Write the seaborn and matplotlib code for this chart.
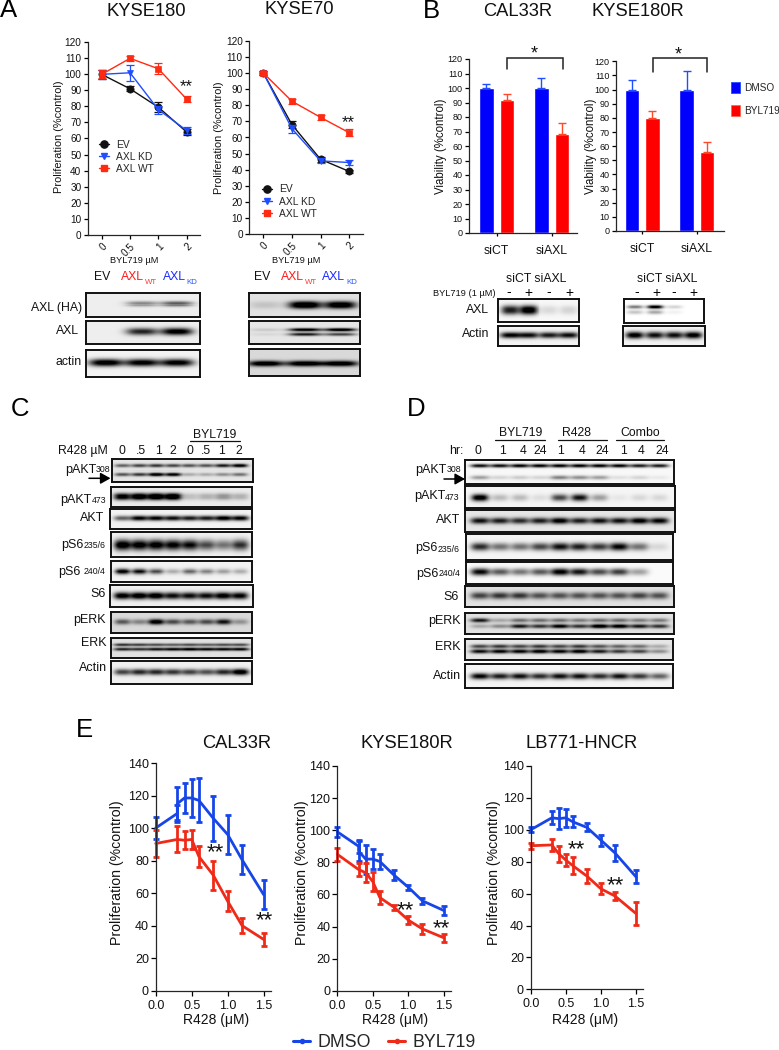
import numpy as np
import pandas as pd
import matplotlib
matplotlib.use("Agg")
import matplotlib.pyplot as plt
from matplotlib.lines import Line2D
from matplotlib.patches import Patch
import seaborn as sns

W, H = 779, 1050
sns.set_theme(style="ticks")
plt.rcParams["font.family"] = ["Liberation Sans", "DejaVu Sans"]
plt.rcParams["axes.linewidth"] = 0.9

# ---------- data: panel A ----------
BYL_DOSES = ["0", "0.5", "1", "2"]
A1_EV = [100, 91, 79.5, 64]
A1_EV_ERR = [3, 1.5, 3, 2]
A1_KD = [100, 101, 78, 65]
A1_KD_ERR = [3, 5, 2.5, 2]
A1_WT = [100, 110, 103.5, 84.5]
A1_WT_ERR = [2.5, 1.5, 3.5, 2]
A2_EV = [100, 68, 46.5, 39]
A2_EV_ERR = [1, 2, 1.5, 1]
A2_KD = [100, 65.5, 45.5, 44.5]
A2_KD_ERR = [1, 2.5, 1.5, 1.5]
A2_WT = [100, 82.5, 72.5, 63]
A2_WT_ERR = [0.5, 1.5, 1.5, 2]

# ---------- data: panel B ----------
SI_GROUPS = ["siCT", "siAXL"]
B1_DMSO = [100, 100]
B1_DMSO_ERR = [3, 7]
B1_BYL = [92, 68]
B1_BYL_ERR = [4, 8]
B2_DMSO = [100, 100]
B2_DMSO_ERR = [7, 13]
B2_BYL = [80, 56]
B2_BYL_ERR = [5, 7]

# ---------- data: panel E ----------
R428 = [0, 0.3, 0.4, 0.5, 0.6, 0.8, 1.0, 1.2, 1.5]
R428_DUP = [0, 0.3, 0.3, 0.4, 0.5, 0.6, 0.8, 1.0, 1.2, 1.5]
E1_DMSO = [100, 109, 115, 118.5, 118.5, 117, 106, 96, 80.5, 59]
E1_DMSO_ERR = [6.5, 5, 10, 9, 11.5, 13.5, 14, 12, 9, 9]
E1_BYL = [90.5, 93, 92.5, 93, 82.5, 71, 55, 40, 31.5]
E1_BYL_ERR = [8.5, 8, 5.5, 6, 6.5, 9, 6, 4.5, 4]
E2_DMSO = [99, 90, 87, 82, 82, 80.5, 72, 64.5, 56, 50]
E2_DMSO_ERR = [3, 4, 6, 9, 6, 4.5, 3, 1.5, 2, 3]
E2_BYL = [85, 75.5, 73.5, 68, 58, 52, 44, 38.5, 33]
E2_BYL_ERR = [4, 4, 6, 6, 4, 1.5, 2.5, 3, 2.5]
E3_DMSO = [100, 107.5, 107, 107.5, 105, 101.5, 93.5, 85.5, 70.5]
E3_DMSO_ERR = [1.5, 4, 6.5, 5.5, 3.5, 2.5, 3.5, 5, 4]
E3_BYL = [90, 90.5, 85, 81, 77.5, 71, 63, 58.5, 47.5]
E3_BYL_ERR = [2, 4, 5, 4, 5.5, 4.5, 3.5, 2.5, 7]

# ---------- data: blot band strengths per lane ----------
A1_HA = [0, .35, .5]
A1_AXL = [0, .7, .9]
A1_ACTIN = [.95, .9, .9]
A2_HA = [.1, .95, .9]
A2_AXL_U = [.1, .85, .9]
A2_AXL_L = [.05, .7, .55]
A2_ACTIN = [.9, .9, .9]
B1_AXL = [.75, .95, .1, .12]
B1_ACTIN = [.85, .8, .75, .8]
B2_AXL_U = [.45, .95, .15, 0]
B2_AXL_L = [.2, .3, .05, 0]
B2_ACTIN = [.9, .8, .8, .9]
C_PAKT308_U = [.45, .55, .6, .55, .5, .5, .7, .85]
C_PAKT308_L = [.5, .6, .9, .85, .2, .2, .3, .4]
C_PAKT473 = [.85, .95, 1, 1, .15, .2, .3, .2]
C_AKT = [.5, .85, .85, .8, .75, .75, .9, .85]
C_PS6235 = [1, .95, .95, .9, .85, .6, .45, .7]
C_PS6240 = [.95, .85, .6, .25, .5, .4, .3, .25]
C_S6 = [.9, .95, .95, .8, .8, .8, .9, .85]
C_PERK = [.45, .3, .85, .5, .45, .5, .7, .25]
C_ERK_U = [.6, .55, .5, .45, .5, .45, .5, .5]
C_ERK_L = [.65, .6, .7, .75, .8, .75, .75, .75]
C_ACTIN = [.6, .7, .7, .65, .6, .55, .7, .95]
D_PAKT308_U = [.8, .8, .85, .85, .85, .85, .85, .85, .75, .75]
D_PAKT308_L = [.3, .12, .15, .12, .4, .35, .3, .08, .12, .05]
D_PAKT473 = [.95, .2, .2, .08, .6, .8, .3, .05, .1, .1]
D_AKT = [.75, .7, .65, .7, .85, .7, .75, .75, .85, .8]
D_PS6235 = [.7, .45, .45, .6, .8, .75, .65, .85, .45, .1]
D_PS6240 = [.85, .55, .45, .55, .9, .8, .6, .65, .3, 0]
D_S6 = [.55, .6, .6, .5, .5, .5, .5, .5, .55, .5]
D_PERK_U = [.7, .2, .4, .4, .4, .35, .4, .4, .35, .35]
D_PERK_L = [.2, .3, .7, .6, .8, .6, .9, .85, .7, .6]
D_ERK_U = [.55, .6, .55, .6, .55, .6, .5, .45, .4, .2]
D_ERK_L = [.75, .8, .8, .85, .8, .85, .7, .6, .55, .3]
D_ACTIN = [.85, .75, .8, .7, .8, .8, .7, .8, .65, .5]

C_LANE_LABELS = ["0", ".5", "1", "2", "0", ".5", "1", "2"]
D_LANE_LABELS = ["0", "1", "4", "24", "1", "4", "24", "1", "4", "24"]

BLACK = "#111111"
BLUE_A = "#1f4dff"
RED_A = "#ff2a12"
BLUE_B = "#0000ff"
RED_B = "#ff0000"
BLUE_E = "#1746e8"
RED_E = "#f02a18"

fig = plt.figure(figsize=(W / 100, H / 100), dpi=100, facecolor="white")


def axpx(x0, y_top, x1, y_bot, **kw):
    return fig.add_axes([x0 / W, 1 - y_bot / H, (x1 - x0) / W, (y_bot - y_top) / H], **kw)


def style_axes(ax, fs, tlen=3.2):
    sns.despine(ax=ax)
    ax.patch.set_alpha(0)
    ax.tick_params(axis="both", labelsize=fs, length=tlen, width=0.9, pad=1.5, color="black",
                   labelcolor="#111111")


def place_labels(ax, rect, ylab_x, ylab_y, xlab_x=None, xlab_y=None):
    x0, y_top, x1, y_bot = rect
    ax.yaxis.set_label_coords((ylab_x - x0) / (x1 - x0), (y_bot - ylab_y) / (y_bot - y_top))
    if xlab_x is not None:
        ax.xaxis.set_label_coords((xlab_x - x0) / (x1 - x0), (y_bot - xlab_y) / (y_bot - y_top))


def panel_a(rect, p0, sp, ev, eve, kd, kde, wt, wte, ylab, xlab):
    ax = axpx(*rect)
    xs = list(range(len(BYL_DOSES)))
    for y, e, col, mk, ms in [(ev, eve, BLACK, "o", 5.2), (kd, kde, BLUE_A, "v", 5),
                              (wt, wte, RED_A, "s", 5)]:
        sns.lineplot(x=xs, y=y, color=col, marker=mk, markersize=ms, markeredgecolor=col,
                     markeredgewidth=0.5, linewidth=1.0, errorbar=None, ax=ax, clip_on=False)
        ax.errorbar(xs, y, yerr=e, fmt="none", ecolor=col, elinewidth=0.9, capsize=2.6,
                    capthick=0.9, clip_on=False)
    ax.set_xlim((rect[0] - p0) / sp, (rect[2] - p0) / sp)
    ax.set_ylim(0, 120)
    ax.set_yticks(range(0, 121, 10))
    ax.set_xticks(xs)
    ax.set_xticklabels(BYL_DOSES, rotation=45, ha="right", rotation_mode="anchor")
    style_axes(ax, 7.2)
    ax.set_ylabel("Proliferation (%control)", fontsize=7.9, color="#111111")
    ax.set_xlabel("BYL719 µM", fontsize=6.7, color="#111111")
    place_labels(ax, rect, ylab[0], ylab[1], xlab[0], xlab[1])
    return ax


def panel_a_legend(ax, x, y):
    handles = [Line2D([], [], color=BLACK, marker="o", ms=5.2, lw=1),
               Line2D([], [], color=BLUE_A, marker="v", ms=5, lw=1),
               Line2D([], [], color=RED_A, marker="s", ms=5, lw=1)]
    ax.legend(handles, ["EV", "AXL KD", "AXL WT"], frameon=False, fontsize=7.4, loc="upper left",
              bbox_to_anchor=(x / W, 1 - y / H), bbox_transform=fig.transFigure, borderpad=0,
              borderaxespad=0, labelspacing=0.22, handlelength=1.0, handletextpad=0.65)


def panel_b(rect, tick0, sp, dmso, dmsoe, byl, byle, ylab):
    ax = axpx(*rect)
    df = pd.DataFrame({"group": SI_GROUPS * 2, "viability": dmso + byl,
                       "treat": ["DMSO"] * 2 + ["BYL719"] * 2})
    sns.barplot(data=df, x="group", y="viability", hue="treat", order=SI_GROUPS,
                hue_order=["DMSO", "BYL719"], palette=[BLUE_B, RED_B], width=0.745, gap=0.28,
                saturation=1, errorbar=None, legend=False, ax=ax)
    errs = dmsoe + byle
    cols = [BLUE_A, BLUE_A, "#ff4a2a", "#ff4a2a"]
    for bar, e, c in zip(ax.patches, errs, cols):
        ax.errorbar(bar.get_x() + bar.get_width() / 2, bar.get_height(), yerr=[[0], [e]], fmt="none",
                    ecolor=c, elinewidth=1.0, capsize=3.2, capthick=1.0)
    ax.set_xlim((rect[0] - tick0) / sp, (rect[2] - tick0) / sp)
    ax.set_ylim(0, 120)
    ax.set_yticks(range(0, 121, 10))
    style_axes(ax, 6.5)
    ax.tick_params(axis="x", labelsize=8.8, pad=6.5, length=2.5)
    ax.set_xlabel("")
    ax.set_ylabel("Viability (%control)", fontsize=8.3, color="#111111")
    place_labels(ax, rect, ylab[0], ylab[1])
    return ax


def panel_e(rect, x15, xdmso, dmso, dmsoe, byl, byle, ylab, xlab):
    ax = axpx(*rect)
    for xs, y, e, col in [(xdmso, dmso, dmsoe, BLUE_E), (R428, byl, byle, RED_E)]:
        sns.lineplot(x=xs, y=y, color=col, estimator=None, sort=False, linewidth=2.0,
                     errorbar=None, ax=ax, clip_on=False)
        ax.errorbar(xs, y, yerr=e, fmt="none", ecolor=col, elinewidth=2.0, capsize=2.2,
                    capthick=2.0, clip_on=False)
    ax.set_xlim(0, 1.5 * (rect[2] - rect[0]) / (x15 - rect[0]))
    ax.set_ylim(0, 140)
    ax.set_yticks(range(0, 141, 20))
    ax.set_xticks([0, 0.5, 1.0, 1.5])
    ax.set_xticklabels(["0.0", "0.5", "1.0", "1.5"])
    style_axes(ax, 9, tlen=3.4)
    ax.tick_params(axis="x", pad=3)
    ax.set_ylabel("Proliferation (%control)", fontsize=10.2, color="#111111")
    ax.set_xlabel("R428 (μM)", fontsize=10, color="#111111")
    place_labels(ax, rect, ylab[0], ylab[1], xlab[0], xlab[1])
    return ax


def blot(rect, lanes, half_w, rows, bg=0.05, lw=1.4):
    """rows: (relative height in the frame, band thickness in px, strengths per lane)."""
    x0, y_top, x1, y_bot = rect
    nx, ny = int(round(x1 - x0)), int(round(y_bot - y_top))
    xx = (np.arange(nx) + 0.5) * (x1 - x0) / nx + x0
    yy = (np.arange(ny) + 0.5) / ny
    img = np.full((ny, nx), float(bg))
    for yf, s, strengths in rows:
        py = np.exp(-0.5 * (((yy - yf) * (y_bot - y_top)) / s) ** 2)
        for c, v in zip(lanes, strengths):
            px = np.exp(-np.abs((xx - c) / half_w) ** 3)
            img += v * 1.15 * np.outer(py, px)
    ax = axpx(*rect)
    sns.heatmap(np.clip(img, 0, 1), ax=ax, cmap="gray_r", vmin=0, vmax=1, cbar=False,
                xticklabels=False, yticklabels=False)
    for sp in ax.spines.values():
        sp.set_visible(True)
        sp.set_color("#111111")
        sp.set_linewidth(lw)
    return ax


def even(a, b, n):
    return list(np.linspace(a, b, n))


# ---------- panel A ----------
R_A1 = (88, 42.3, 200, 234.7)
R_A2 = (249.3, 40.7, 362.7, 234.3)
a1 = panel_a(R_A1, 101.7, 28.33, A1_EV, A1_EV_ERR, A1_KD, A1_KD_ERR, A1_WT, A1_WT_ERR,
             (64, 136.7), (134, 256))
a2 = panel_a(R_A2, 263.3, 28.6, A2_EV, A2_EV_ERR, A2_KD, A2_KD_ERR, A2_WT, A2_WT_ERR,
             (224, 137.8), (295.7, 256))
panel_a_legend(a1, 99, 139.5)
panel_a_legend(a2, 262, 184.5)

# ---------- panel B ----------
R_B1 = (469.3, 59, 577.3, 233)
R_B2 = (616, 61.3, 724, 231)
b1 = panel_b(R_B1, 496.7, 55, B1_DMSO, B1_DMSO_ERR, B1_BYL, B1_BYL_ERR, (447, 146.7))
b2 = panel_b(R_B2, 642.3, 54.4, B2_DMSO, B2_DMSO_ERR, B2_BYL, B2_BYL_ERR, (597, 146.7))
b2.legend([Patch(facecolor=BLUE_B, edgecolor=BLUE_A, lw=0.6),
           Patch(facecolor=RED_B, edgecolor="#ff6a50", lw=0.6)], ["DMSO", "BYL719"],
          frameon=False, fontsize=7.2, loc="upper left", bbox_to_anchor=(731 / W, 1 - 82 / H),
          bbox_transform=fig.transFigure, borderpad=0, borderaxespad=0, labelspacing=1.22,
          handlelength=0.9, handleheight=1.3, handletextpad=0.4)

# ---------- panel E ----------
R_E1 = (155.7, 763, 270.7, 990.7)
R_E2 = (337.3, 766, 450.7, 990.7)
R_E3 = (530.7, 766, 642.7, 989.3)
panel_e(R_E1, 263.7, R428_DUP, E1_DMSO, E1_DMSO_ERR, E1_BYL, E1_BYL_ERR, (124, 872.5), (216, 1013))
panel_e(R_E2, 443.7, R428_DUP, E2_DMSO, E2_DMSO_ERR, E2_BYL, E2_BYL_ERR, (309, 872.5), (395, 1013))
panel_e(R_E3, 636, R428, E3_DMSO, E3_DMSO_ERR, E3_BYL, E3_BYL_ERR, (501, 873), (585, 1013))
fig.legend([Line2D([], [], color=BLUE_E, lw=2.2, marker="o", ms=3),
            Line2D([], [], color=RED_E, lw=2.2, marker="o", ms=3)], ["DMSO", "BYL719"],
           loc="center", bbox_to_anchor=(384.5 / W, 1 - 1042.7 / H), ncol=2, frameon=False,
           fontsize=12.8, borderpad=0, borderaxespad=0, handlelength=0.95, handletextpad=0.42,
           columnspacing=0.95)

# ---------- blots ----------
lA1 = [106, 142, 177]
lA2 = [266, 305, 340]
blot((86, 293.3, 200, 316.7), lA1, 16, [(.45, 1.6, A1_HA)], bg=.07)
blot((86, 321, 200, 344.3), lA1, 16, [(.46, 2.6, A1_AXL)], bg=.07)
blot((86, 350, 200, 376.7), lA1, 17, [(.47, 2.6, A1_ACTIN)], bg=.05)
blot((249.3, 293.3, 359.7, 316.7), lA2, 16, [(.5, 2.4, A2_HA)], bg=.12)
blot((249.3, 321, 359.7, 344.3), lA2, 16, [(.38, 1.2, A2_AXL_U), (.58, 1.2, A2_AXL_L)], bg=.1)
blot((249.3, 349, 359.7, 375.7), lA2, 18, [(.54, 2.0, A2_ACTIN)], bg=.15)

lB1 = [510, 528.3, 549.3, 569]
lB2 = [635, 655, 674.3, 693.3]
blot((497.7, 299.3, 579.3, 321.7), lB1, 9, [(.48, 3, B1_AXL)], bg=.03)
blot((497.7, 325.7, 579.3, 346), lB1, 10, [(.46, 2.2, B1_ACTIN)], bg=.05)
blot((624, 299, 703.7, 323.3), lB2, 8, [(.33, 1.3, B2_AXL_U), (.55, 1.5, B2_AXL_L)], bg=0)
blot((623.3, 325.7, 705, 346), lB2, 9, [(.46, 2.5, B2_ACTIN)], bg=.05)

lC = even(122.3, 240, 8)
blot((111.7, 459.3, 253.3, 481.7), lC, 8, [(.3, 1.3, C_PAKT308_U), (.66, 1.3, C_PAKT308_L)], bg=.1)
blot((111, 487.3, 251.7, 506.7), lC, 8.5, [(.48, 2.2, C_PAKT473)], bg=.08)
blot((110, 509.3, 251.7, 529), lC, 8.5, [(.46, 1.8, C_AKT)], bg=.05)
blot((110.7, 531.7, 251.7, 557.3), lC, 8.5, [(.52, 4, C_PS6235)], bg=.05)
blot((110.7, 560.7, 251.7, 582.3), lC, 7.5, [(.5, 2.2, C_PS6240)], bg=.05)
blot((110, 585, 253.3, 606.7), lC, 8.5, [(.49, 2.5, C_S6)], bg=.06)
blot((110.7, 611.7, 251.7, 633), lC, 8, [(.47, 2, C_PERK)], bg=.15)
blot((110.7, 638, 251.7, 658.3), lC, 9, [(.34, 1.1, C_ERK_U), (.56, 1.2, C_ERK_L)], bg=.12)
blot((110.7, 660.7, 251.7, 683.7), lC, 8.5, [(.48, 2.2, C_ACTIN)], bg=.06)

lD = even(480, 659.3, 10)
blot((465, 460, 674, 483.7), lD, 9.5, [(.24, 1.3, D_PAKT308_U), (.73, 1.5, D_PAKT308_L)], bg=.03)
blot((465, 486, 675, 508), lD, 8.5, [(.53, 2.5, D_PAKT473)], bg=.04)
blot((465, 510, 675, 531.7), lD, 9.5, [(.49, 2.2, D_AKT)], bg=.1)
blot((465.7, 534.3, 673.3, 560), lD, 9.5, [(.49, 2.8, D_PS6235)], bg=.04)
blot((465.7, 562.3, 673.3, 584), lD, 9.5, [(.45, 2.5, D_PS6240)], bg=.02)
blot((465, 586, 674.3, 607), lD, 9.5, [(.46, 2.5, D_S6)], bg=.12)
blot((465, 612.7, 674, 633.7), lD, 9.5, [(.35, 1.5, D_PERK_U), (.63, 1.5, D_PERK_L)], bg=.12)
blot((465, 639.3, 673.3, 660.3), lD, 9.5, [(.35, 1.4, D_ERK_U), (.59, 1.5, D_ERK_L)], bg=.1)
blot((465, 664, 672.7, 687.7), lD, 9.5, [(.51, 2.2, D_ACTIN)], bg=.04)

# ---------- text overlay (figure pixel coordinates) ----------
ov = fig.add_axes([0, 0, 1, 1], zorder=20)
ov.set_xlim(0, W)
ov.set_ylim(H, 0)
ov.axis("off")


def t(x, y, s, fs=9, ha="center", va="center", color="#111111", **kw):
    return ov.text(x, y, s, fontsize=fs, ha=ha, va=va, color=color, **kw)


def sub_label(split, y, big, small, fs=9, fss=6.3, gap=0):
    t(split, y + 4.5, big, fs, ha="right", va="baseline")
    t(split + gap, y + 4.5, small, fss, ha="left", va="baseline")


def stars(x, y, s="**", fs=12):
    t(x, y, s, fs, va="center")


# panel letters
for x, y, s in [(0, 10, "A"), (422.5, 11, "B"), (11, 409, "C"), (407, 409, "D"), (76, 730, "E")]:
    t(x, y, s, 18.5, ha="left", color="black")

# titles
for x, y, s in [(146.7, 11, "KYSE180"), (299, 9.5, "KYSE70"), (517.7, 11, "CAL33R"),
                (638, 11, "KYSE180R"), (236.7, 744, "CAL33R"), (407, 744, "KYSE180R"),
                (582, 744, "LB771-HNCR")]:
    t(x, y, s, 13.2)

# significance marks
stars(186.7, 87, fs=12)
stars(348.5, 123, fs=12)
stars(215, 853, fs=16)
stars(264.7, 921, fs=16)
stars(405, 911, fs=16)
stars(441.7, 929, fs=16)
stars(576, 850, fs=16)
stars(615, 886, fs=16)
stars(534.3, 54, "*", 13)
stars(678, 55, "*", 13)
for xa, xb, ytop, ybot in [(506.7, 563.3, 57.7, 69.3), (652.7, 706.7, 58, 71.7)]:
    ov.plot([xa, xa, xb, xb], [ybot, ytop, ytop, ybot], color="#222222", lw=1.1,
            solid_joinstyle="miter")

# panel A blot labels
for xev, xw, xk in [(102.5, 121, 162.5), (262, 280.5, 322)]:
    t(xev, 277.5, "EV", 8.8)
    t(xw, 277.5, "AXL", 8.8, ha="left", color="#ff1a1a")
    t(xw + 24, 282, "WT", 5.7, ha="left", color="#ff3a2a")
    t(xk, 277.5, "AXL", 8.8, ha="left", color="#1a2aff")
    t(xk + 24, 282, "KD", 5.7, ha="left", color="#2a5aff")
t(82, 308, "AXL (HA)", 8.8, ha="right")
t(79, 331.5, "AXL", 8.8, ha="right")
t(82, 362, "actin", 8.8, ha="right")

# panel B blot labels
t(535.7, 278.5, "siCT siAXL", 8.8)
t(666.7, 278.5, "siCT siAXL", 8.8)
t(495.3, 293.5, "BYL719 (1 µM)", 6.7, ha="right")
for x, s in [(508.3, "-"), (528.3, "+"), (549, "-"), (569, "+"),
             (637, "-"), (656.7, "+"), (673.3, "-"), (693, "+")]:
    t(x, 292.5, s, 10, color="black")
t(489.3, 310, "AXL", 8.8, ha="right")
t(489.3, 334.3, "Actin", 8.8, ha="right")

# panel C labels
for x, s in zip([121.7, 140.7, 158.3, 173.3, 190, 206, 221.7, 239.3], C_LANE_LABELS):
    t(x, 451, s, 8.8)
t(107.5, 451, "R428 µM", 8.8, ha="right")
t(214.7, 434.5, "BYL719", 8.8)
ov.plot([190, 240], [440.5, 440.5], color="#111111", lw=0.9)
sub_label(96, 468, "pAKT", "308")
sub_label(91.7, 498.5, "pAKT", "473")
t(104.3, 517.7, "AKT", 9, ha="right")
sub_label(83.5, 543.5, "pS6", "235/6")
sub_label(80.5, 570, "pS6", "240/4", gap=3)
t(106, 594, "S6", 9, ha="right")
t(106, 620.5, "pERK", 9, ha="right")
t(106.7, 643.3, "ERK", 9, ha="right")
t(107.3, 668.3, "Actin", 9, ha="right")
ov.annotate("", xy=(110.5, 478.3), xytext=(89, 478.3),
            arrowprops=dict(arrowstyle="-|>,head_width=0.28,head_length=0.5", color="black", lw=1.1,
                            shrinkA=0, shrinkB=0))

# panel D labels
for x, s in zip([477.7, 502.3, 522.7, 540.3, 561, 582, 601.7, 623.3, 641, 662.3], D_LANE_LABELS):
    t(x, 451.5, s, 8.8)
t(463.3, 451.5, "hr:", 8.8, ha="right")
for xa, xb, xc, s in [(495.3, 545, 520.3, "BYL719"), (558.3, 607.3, 577, "R428"),
                      (615.7, 664, 639.7, "Combo")]:
    t(xc, 433.5, s, 8.8)
    ov.plot([xa, xb], [440, 440], color="#111111", lw=0.9)
sub_label(446.7, 468, "pAKT", "308")
sub_label(445, 495, "pAKT", "473")
t(460.7, 520.3, "AKT", 9, ha="right")
sub_label(437.7, 547, "pS6", "235/6")
sub_label(439, 572, "pS6", "240/4")
t(459, 596.7, "S6", 9, ha="right")
t(460.7, 620.7, "pERK", 9, ha="right")
t(460.7, 646.7, "ERK", 9, ha="right")
t(461.3, 676, "Actin", 9, ha="right")
ov.annotate("", xy=(465, 479), xytext=(444, 479),
            arrowprops=dict(arrowstyle="-|>,head_width=0.28,head_length=0.5", color="black", lw=1.1,
                            shrinkA=0, shrinkB=0))

fig.savefig("out.png", dpi=100, facecolor="white")
